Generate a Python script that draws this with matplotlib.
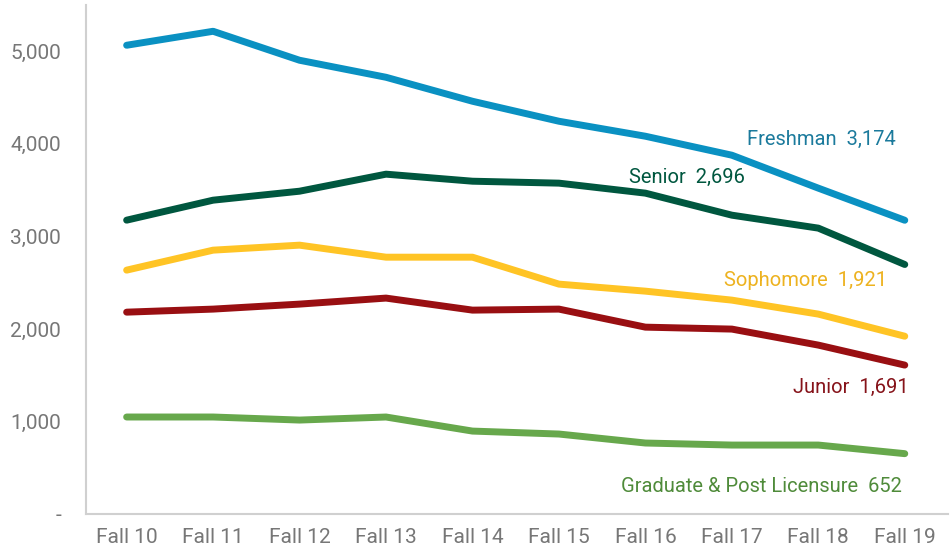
import matplotlib
matplotlib.use("Agg")
import matplotlib.pyplot as plt
from matplotlib.ticker import FuncFormatter

plt.rcParams['font.family'] = ['Roboto', 'DejaVu Sans']

terms = ['Fall 10', 'Fall 11', 'Fall 12', 'Fall 13', 'Fall 14',
         'Fall 15', 'Fall 16', 'Fall 17', 'Fall 18', 'Fall 19']

freshman = [5065, 5216, 4903, 4719, 4460, 4244, 4082, 3877, 3521, 3174]
senior = [3175, 3391, 3488, 3672, 3596, 3575, 3467, 3229, 3089, 2696]
sophomore = [2635, 2851, 2905, 2775, 2775, 2484, 2408, 2311, 2160, 1921]
junior = [2181, 2214, 2268, 2333, 2203, 2214, 2019, 1998, 1825, 1609]
graduate = [1048, 1048, 1015, 1048, 896, 864, 767, 745, 745, 652]

names = ['Freshman', 'Senior', 'Sophomore', 'Junior', 'Graduate & Post Licensure']
end_labels = ['3,174', '2,696', '1,921', '1,691', '652']

# values, line colour, label colour, label x (right edge), label y
series = [
    (freshman, '#0A91C2', '#1B7A9C', 8.9, 4050),
    (senior, '#00573F', '#00573F', 7.15, 3635),
    (sophomore, '#FFC425', '#EDB21F', 8.8, 2520),
    (junior, '#990F12', '#86131A', 9.05, 1365),
    (graduate, '#67A84C', '#4F8B3A', 8.97, 300),
]

fig = plt.figure(figsize=(9.51, 5.52), dpi=100)
ax = fig.add_axes([86 / 951, 38 / 552, 862 / 951, 509 / 552])

x = list(range(len(terms)))
for name, lab, (vals, lc, tc, lx, ly) in zip(names, end_labels, series):
    ax.plot(x, vals, color=lc, lw=5, solid_capstyle='round', solid_joinstyle='round')
    ax.text(lx, ly, f"{name}  {lab}", color=tc, fontsize=14.5,
            ha='right', va='center')

ax.set_xlim(-0.47, 9.5)
ax.set_ylim(0, 5500)
ax.set_xticks(x)
ax.set_xticklabels(terms)
ax.set_yticks([0, 1000, 2000, 3000, 4000, 5000])
ax.yaxis.set_major_formatter(FuncFormatter(lambda v, p: '-' if v == 0 else f"{int(v):,}"))
ax.tick_params(length=0, labelsize=15, labelcolor='#777777')
ax.tick_params(axis='y', pad=18)
ax.tick_params(axis='x', pad=10)

for side in ['top', 'right']:
    ax.spines[side].set_visible(False)
for side in ['left', 'bottom']:
    ax.spines[side].set_color('#D0D0D0')
    ax.spines[side].set_linewidth(1.5)

fig.savefig('out.png', dpi=100)
